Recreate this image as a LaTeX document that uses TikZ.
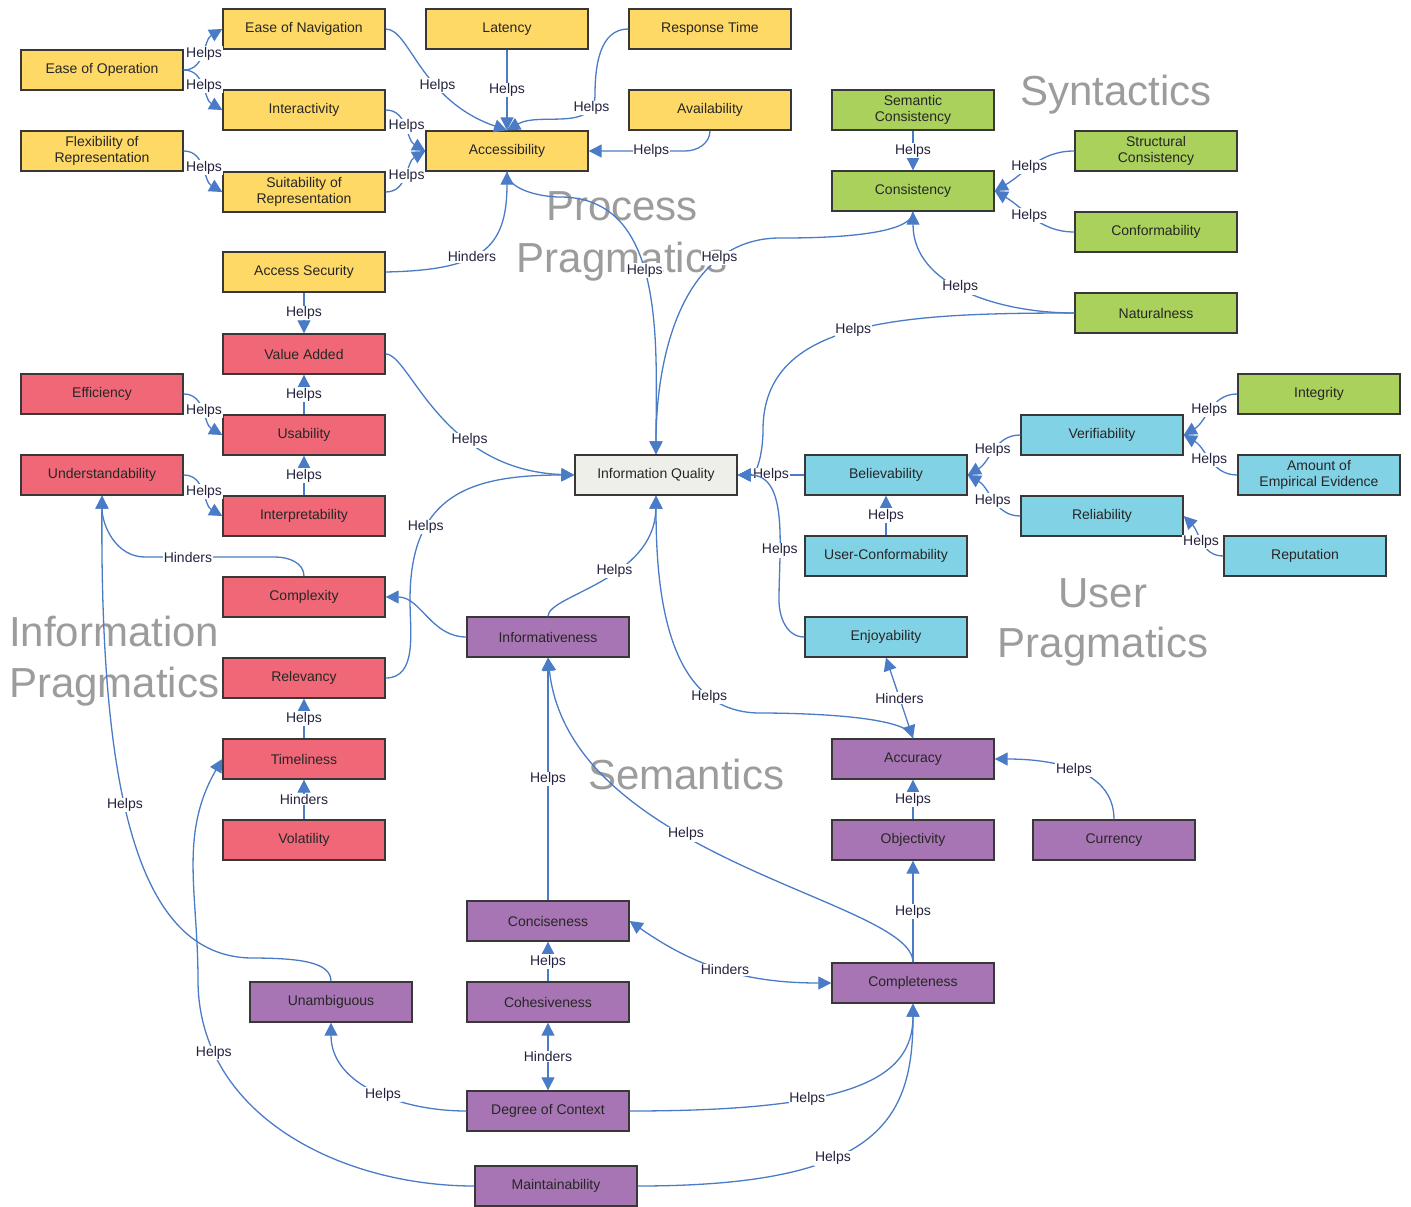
\documentclass[tikz,border=0pt]{standalone}
\usepackage{fontspec}
\setmainfont{Liberation Sans}
\usetikzlibrary{arrows.meta}

\definecolor{qyellow}{HTML}{FFD966}
\definecolor{qgreen}{HTML}{A9D15B}
\definecolor{qred}{HTML}{F06877}
\definecolor{qblue}{HTML}{82D2E6}
\definecolor{qpurple}{HTML}{A775B3}
\definecolor{qgrey}{HTML}{EFEFEA}
\definecolor{boxline}{HTML}{383838}
\definecolor{linkblue}{HTML}{4A7BC6}
\definecolor{lbltext}{HTML}{23233F}
\definecolor{wmgrey}{HTML}{9C9C9C}

\begin{document}
\begin{tikzpicture}[x=1pt,y=-1pt,
  box/.style={draw=boxline, line width=1.4pt, minimum width=162pt, minimum height=40pt,
    inner sep=1pt, align=center, font=\fontsize{14}{16.5}\selectfont, text=black!85},
  ybox/.style={box, fill=qyellow},
  gbox/.style={box, fill=qgreen},
  rbox/.style={box, fill=qred},
  bbox/.style={box, fill=qblue},
  pbox/.style={box, fill=qpurple},
  qbox/.style={box, fill=qgrey},
  link/.style={draw=linkblue, line width=1.3pt, -{Triangle[length=13pt,width=13pt]}},
  twoway/.style={link, {Triangle[length=13pt,width=13pt]}-{Triangle[length=13pt,width=13pt]}},
  lbl/.style={fill=white, inner sep=0.7pt, text=lbltext, font=\fontsize{14}{15}\selectfont},
  wmark/.style={text=wmgrey, font=\fontsize{42}{50}\selectfont, inner sep=0pt, anchor=base}
]
\useasboundingbox (0,0) rectangle (1411,1207);

% Group titles
\node[wmark] (wproc) at (622,220) {Process};
\node[wmark] (wpprag) at (622,272) {Pragmatics};
\node[wmark,anchor=base west] (wsyn) at (1020,106) {Syntactics};
\node[wmark] (wuser) at (1103,607) {User};
\node[wmark] (wuprag) at (1103,657) {Pragmatics};
\node[wmark,anchor=base west] (winfo) at (9,646) {Information};
\node[wmark,anchor=base west] (wiprag) at (9,697) {Pragmatics};
\node[wmark,anchor=base west] (wsem) at (588,789) {Semantics};

% Process pragmatics
\node[ybox] (eop) at (102,70) {Ease of Operation};
\node[ybox] (enav) at (304,29) {Ease of Navigation};
\node[ybox] (lat) at (507,29) {Latency};
\node[ybox] (resp) at (710,29) {Response Time};
\node[ybox] (inter) at (304,110) {Interactivity};
\node[ybox] (avail) at (710,110) {Availability};
\node[ybox] (flex) at (102,151) {Flexibility of\\Representation};
\node[ybox] (access) at (507,151) {Accessibility};
\node[ybox] (suit) at (304,192) {Suitability of\\Representation};
\node[ybox] (asec) at (304,272) {Access Security};

% Syntactics
\node[gbox] (semc) at (913,110) {Semantic\\Consistency};
\node[gbox] (cons) at (913,191) {Consistency};
\node[gbox] (strc) at (1156,151) {Structural\\Consistency};
\node[gbox] (conf) at (1156,232) {Conformability};
\node[gbox] (natu) at (1156,313) {Naturalness};
\node[gbox] (integ) at (1319,394) {Integrity};

% Information pragmatics
\node[rbox] (valadd) at (304,354) {Value Added};
\node[rbox] (effi) at (102,394) {Efficiency};
\node[rbox] (usab) at (304,435) {Usability};
\node[rbox] (under) at (102,475) {Understandability};
\node[rbox] (interp) at (304,516) {Interpretability};
\node[rbox] (compl) at (304,597) {Complexity};
\node[rbox] (relev) at (304,678) {Relevancy};
\node[rbox] (timel) at (304,759) {Timeliness};
\node[rbox] (volat) at (304,840) {Volatility};

\node[qbox] (iq) at (656,475) {Information Quality};

% User pragmatics
\node[bbox] (believ) at (886,475) {Believability};
\node[bbox] (verif) at (1102,435) {Verifiability};
\node[bbox] (amount) at (1319,475) {Amount of\\Empirical Evidence};
\node[bbox] (relia) at (1102,516) {Reliability};
\node[bbox] (reput) at (1305,556) {Reputation};
\node[bbox] (ucon) at (886,556) {User-Conformability};
\node[bbox] (enjoy) at (886,637) {Enjoyability};

% Semantics
\node[pbox] (inform) at (548,637) {Informativeness};
\node[pbox] (accur) at (913,759) {Accuracy};
\node[pbox] (objec) at (913,840) {Objectivity};
\node[pbox] (curr) at (1114,840) {Currency};
\node[pbox] (conc) at (548,921) {Conciseness};
\node[pbox] (comp) at (913,983) {Completeness};
\node[pbox] (unamb) at (331,1002) {Unambiguous};
\node[pbox] (cohes) at (548,1002) {Cohesiveness};
\node[pbox] (degc) at (548,1111) {Degree of Context};
\node[pbox] (maint) at (556,1186) {Maintainability};

% Process pragmatics links
\draw[link] (eop.east) to[out=0,in=-150] node[lbl]{Helps} (enav.west);
\draw[link] (eop.east) to[out=0,in=150] node[lbl]{Helps} (inter.west);
\draw[link] (flex.east) to[out=0,in=150] node[lbl]{Helps} (suit.west);
\draw[link] (enav.east) .. controls (410,29) and (420,100) .. (access.north) node[lbl,pos=.63]{Helps};
\draw[link] (lat) -- node[lbl]{Helps} (access);
\draw[link] (resp.west) to[out=180,in=90] (595,95) to[out=-90,in=30] node[lbl,pos=.15]{Helps} (access.north);
\draw[link] (inter.east) to[out=0,in=150] node[lbl]{Helps} (access.west);
\draw[link] (suit.east) to[out=0,in=-150] node[lbl]{Helps} (access.west);
\draw[link] (avail.south) to[out=-90,in=0] (685,151) -- node[lbl,pos=.35]{Helps} (access.east);
\draw[link] (asec.east) .. controls (480,270) and (507,250) .. (access.south) node[lbl,pos=.42]{Hinders};
\draw[link] (access.south) to[out=-90,in=180,looseness=.8] (560,197) to[out=0,in=90] node[lbl,pos=.45]{Helps} (iq.north);

% Syntactics links
\draw[link] (semc) -- node[lbl]{Helps} (cons);
\draw[link] (strc.west) to[out=180,in=30] node[lbl,pos=.55]{Helps} (cons.east);
\draw[link] (conf.west) to[out=180,in=-30] node[lbl,pos=.55]{Helps} (cons.east);
\draw[link] (natu.west) to[out=180,in=-90] node[lbl,pos=.53]{Helps} (cons.south);
\draw[link] (cons.south) to[out=-90,in=0,looseness=.5] (780,238) to[out=180,in=90] node[lbl,pos=.25]{Helps} (iq.north);
\draw[link] (natu.west) .. controls (900,313) and (763,320) .. (763,430) node[lbl,pos=.5]{Helps} to[out=-90,in=0] (iq.east);

% Information pragmatics links
\draw[link] (asec) -- node[lbl]{Helps} (valadd);
\draw[link] (usab) -- node[lbl]{Helps} (valadd);
\draw[link] (effi.east) to[out=0,in=150] node[lbl]{Helps} (usab.west);
\draw[link] (interp) -- node[lbl]{Helps} (usab);
\draw[link] (under.east) to[out=0,in=150] node[lbl]{Helps} (interp.west);
\draw[link] (compl.north) to[out=90,in=0] (275,557) -- (145,557) node[lbl,pos=.67]{Hinders} to[out=180,in=-90] (under.south);
\draw[link] (valadd.east) .. controls (410,354) and (440,470) .. (iq.west) node[lbl,pos=.66]{Helps};
\draw[link] (relev.east) to[out=0,in=-90] (410,600) to[out=90,in=180,looseness=1.3] node[lbl,pos=.3]{Helps} (iq.west);
\draw[link] (timel) -- node[lbl]{Helps} (relev);
\draw[link] (volat) -- node[lbl]{Hinders} (timel);

% User pragmatics links
\draw[link] (believ) -- node[lbl]{Helps} (iq);
\draw[link] (enjoy.west) to[out=180,in=-90] (779,600) to[out=90,in=0] node[lbl,pos=.3]{Helps} (iq.east);
\draw[link] (ucon) -- node[lbl]{Helps} (believ);
\draw[link] (verif.west) to[out=180,in=30] node[lbl]{Helps} (believ.east);
\draw[link] (relia.west) to[out=180,in=-30] node[lbl]{Helps} (believ.east);
\draw[link] (integ.west) to[out=180,in=30] node[lbl]{Helps} (verif.east);
\draw[link] (amount.west) to[out=180,in=-30] node[lbl]{Helps} (verif.east);
\draw[link] (reput.west) to[out=180,in=-45] node[lbl]{Helps} (relia.east);

% Semantics links
\draw[link] (inform.west) to[out=180,in=0] (compl.east);
\draw[link] (inform.north) .. controls (548,595) and (655,580) .. (iq.south) node[lbl,pos=.58]{Helps};
\draw[link] (conc) -- node[lbl]{Helps} (inform);
\draw[link] (comp.north) .. controls (913,900) and (570,860) .. (inform.south) node[lbl,pos=.6]{Helps};
\draw[link] (accur.north) to[out=90,in=0,looseness=.4] (760,713) to[out=180,in=-90] node[lbl,pos=.22]{Helps} (iq.south);
\draw[twoway] (enjoy.south) -- node[lbl]{Hinders} (accur.north);
\draw[link] (curr.north) to[out=90,in=0] node[lbl]{Helps} (accur.east);
\draw[link] (objec) -- node[lbl]{Helps} (accur);
\draw[link] (comp) -- node[lbl]{Helps} (objec);
\draw[twoway] (conc.east) to[out=-35,in=180] node[lbl]{Hinders} (comp.west);
\draw[link] (cohes) -- node[lbl]{Helps} (conc);
\draw[twoway] (degc) -- node[lbl]{Hinders} (cohes);
\draw[link] (degc.west) to[out=180,in=-90] node[lbl,pos=.45]{Helps} (unamb.south);
\draw[link] (degc.east) .. controls (850,1111) and (913,1080) .. (comp.south) node[lbl,pos=.35]{Helps};
\draw[link] (maint.east) .. controls (880,1186) and (913,1120) .. (comp.south) node[lbl,pos=.38]{Helps};
\draw[link] (maint.west) to[out=180,in=-90] node[lbl,pos=.8]{Helps} (198,980) to[out=90,in=-120] (timel.west);
\draw[link] (unamb.north) .. controls (331,962) and (300,958) .. (250,958) .. controls (140,955) and (100,800) .. (under.south) node[lbl,pos=.57]{Helps};
\end{tikzpicture}
\end{document}
